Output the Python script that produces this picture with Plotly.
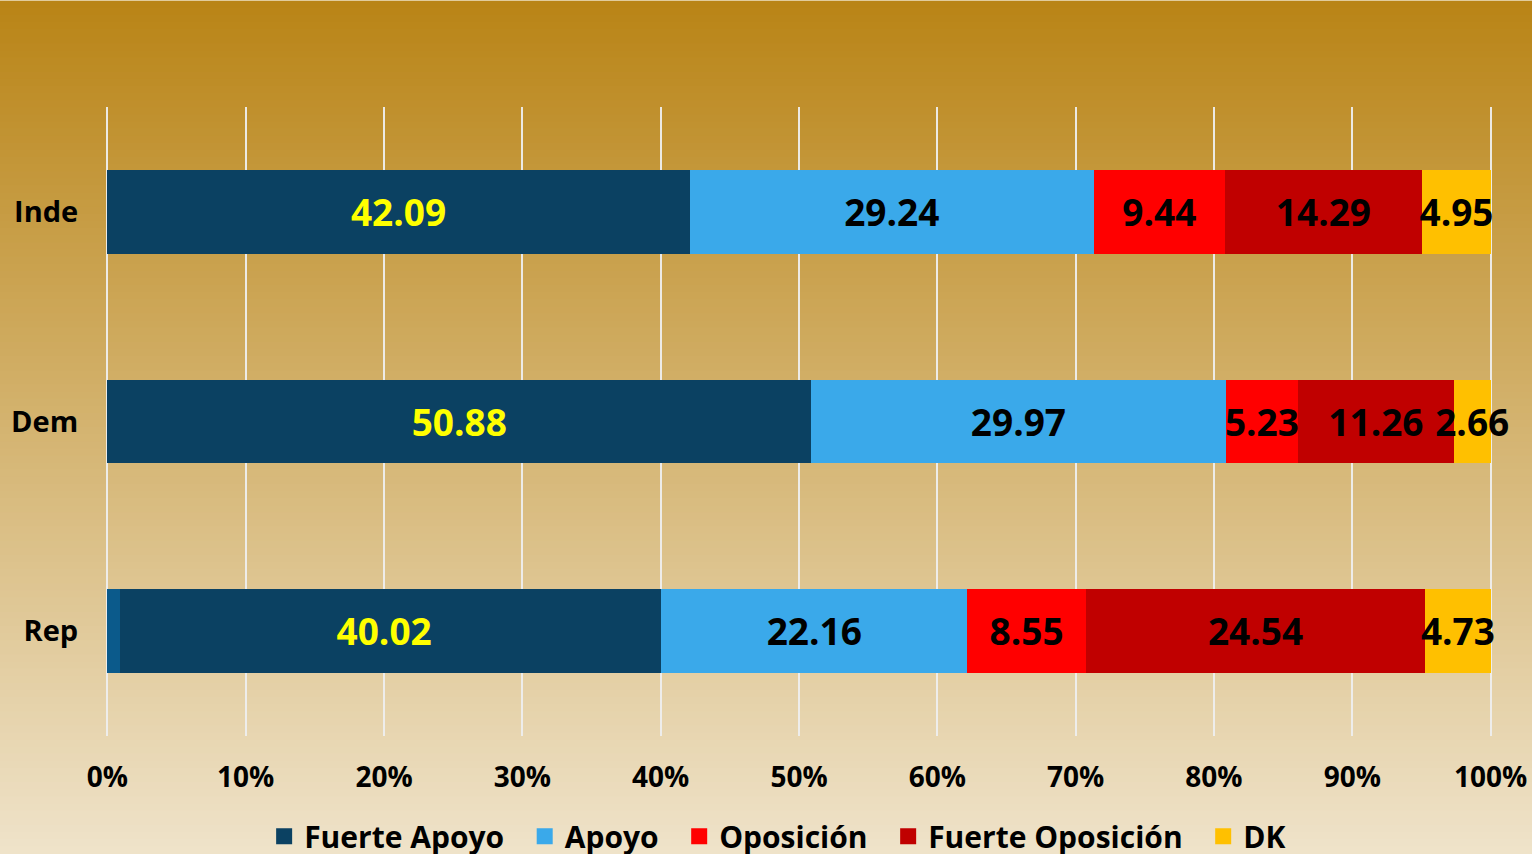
import plotly.graph_objects as go

# ---- data ----
groups = ["Inde", "Dem", "Rep"]
series_names = ["Fuerte Apoyo", "Apoyo", "Oposición", "Fuerte Oposición", "DK"]
fuerte_apoyo = [42.09, 50.88, 40.02]
apoyo = [29.24, 29.97, 22.16]
oposicion = [9.44, 5.23, 8.55]
fuerte_oposicion = [14.29, 11.26, 24.54]
dk = [4.95, 2.66, 4.73]
otro = [0, 0, 0.9]   # thin unlabeled sliver at start of the Rep bar
x_ticks = list(range(0, 101, 10))
x_tick_labels = [f"{v}%" for v in x_ticks]

series_values = [fuerte_apoyo, apoyo, oposicion, fuerte_oposicion, dk]
colors = ["#0b4162", "#3aa9ea", "#ff0000", "#c00000", "#ffc000"]
text_colors = ["#ffff00", "#000000", "#000000", "#000000", "#000000"]

FONT = "Open Sans"
PAD = "\u00a0\u00a0"
TEXT_SHIFT = 0.024   # category units, nudges labels to optical centre

fig = go.Figure()
for name, vals, col in zip(series_names, series_values, colors):
    fig.add_trace(go.Bar(
        y=groups, x=vals, name=name, orientation="h", legendgroup=name,
        showlegend=False,
        marker=dict(color=col, line=dict(width=0)),
        textposition="none", hoverinfo="x+name",
    ))
    # legend entry with a larger square swatch
    fig.add_trace(go.Scatter(
        x=[None], y=[None], mode="markers", name=name + PAD, legendgroup=name,
        marker=dict(symbol="square", size=16, color=col, line=dict(width=0)),
        hoverinfo="skip",
    ))

# thin sliver overlaid at the start of the Rep bar
fig.add_trace(go.Bar(
    y=groups, x=otro, orientation="h", yaxis="y2", showlegend=False,
    marker=dict(color="#0b5a8b", line=dict(width=0)), hoverinfo="skip",
))

# value labels, centred in each stacked segment
start = [0.0] * len(groups)
for vals, tcol in zip(series_values, text_colors):
    centers = [s + v / 2 for s, v in zip(start, vals)]
    fig.add_trace(go.Scatter(
        x=centers, y=groups, yaxis="y3", mode="text",
        text=[f"{v:.2f}" for v in vals],
        textposition="middle center", showlegend=False, hoverinfo="skip",
        cliponaxis=False,
        textfont=dict(family=FONT, size=37, color=tcol, weight="bold"),
    ))
    start = [s + v for s, v in zip(start, vals)]

# ---- background gradient (page) ----
L, R, T, B = 106, 40, 106.5, 117.5
W, H = 1532, 854
pw, ph = W - L - R, H - T - B
top_c = (185, 132, 22)
bot_c = (239, 227, 202)
n = 120
shapes = []
for i in range(n):
    py0 = H * i / n
    py1 = H * (i + 1) / n + 1
    t = (i + 0.5) / n
    c = tuple(round(top_c[k] + (bot_c[k] - top_c[k]) * t) for k in range(3))
    shapes.append(dict(
        type="rect", xref="paper", yref="paper", layer="below",
        x0=-L / pw - 0.01, x1=1 + R / pw + 0.01,
        y0=(H - B - py1) / ph, y1=(H - B - py0) / ph,
        fillcolor=f"rgb{c}", line=dict(width=0),
    ))

n_cat = len(groups)
fig.update_layout(
    width=W, height=H,
    margin=dict(l=L, r=R, t=T, b=B, autoexpand=False),
    barmode="stack", bargap=0.6,
    paper_bgcolor="rgb(239,227,202)", plot_bgcolor="rgba(0,0,0,0)",
    shapes=shapes,
    font=dict(family=FONT, color="#000000"),
    xaxis=dict(
        range=[-0.1, 100.1], tickvals=x_ticks, ticktext=x_tick_labels,
        showgrid=True, gridcolor="rgba(238,238,238,0.95)", gridwidth=2,
        zeroline=False, showline=False,
        ticks="outside", ticklen=16, tickcolor="rgba(0,0,0,0)",
        tickfont=dict(family=FONT, size=28, color="#000000", weight="bold"),
        fixedrange=True,
    ),
    yaxis=dict(
        categoryorder="array", categoryarray=groups,
        range=[n_cat - 0.5, -0.5], showgrid=False, zeroline=False,
        ticks="outside", ticklen=21, tickcolor="rgba(0,0,0,0)",
        tickfont=dict(family=FONT, size=29, color="#000000", weight="bold"),
    ),
    yaxis2=dict(
        overlaying="y", categoryorder="array", categoryarray=groups,
        range=[n_cat - 0.5, -0.5], visible=False,
    ),
    yaxis3=dict(
        overlaying="y", categoryorder="array", categoryarray=groups,
        range=[n_cat - 0.5 - TEXT_SHIFT, -0.5 - TEXT_SHIFT], visible=False,
    ),
    legend=dict(
        orientation="h", x=0.49, xanchor="center", y=-0.118, yanchor="top",
        font=dict(family=FONT, size=30, color="#000000", weight="bold"),
        bgcolor="rgba(0,0,0,0)", traceorder="normal",
    ),
    showlegend=True,
)

fig.write_html("out.html", config={"displayModeBar": False},
               post_script="document.body.style.margin='0';document.body.style.overflow='hidden';")
